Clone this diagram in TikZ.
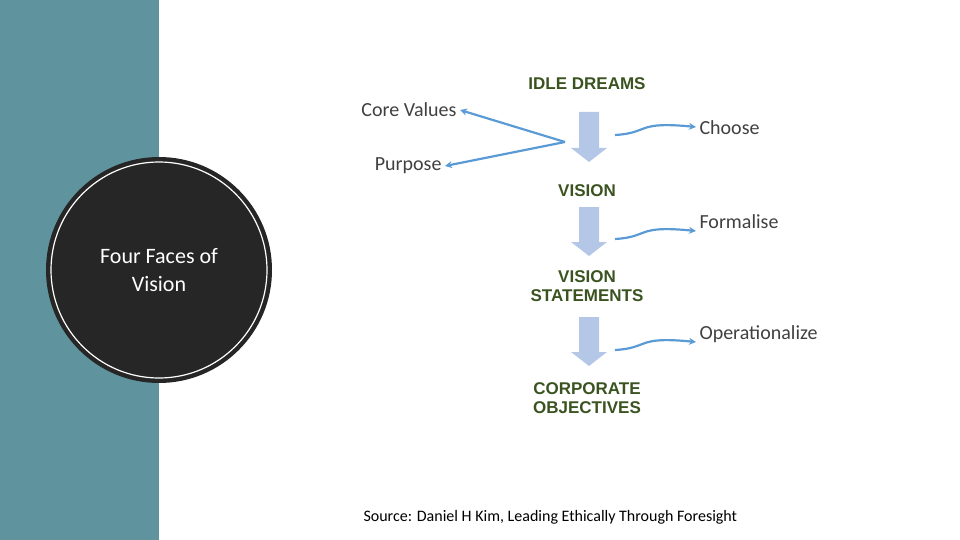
\documentclass[tikz,border=0pt]{standalone}
\usepackage{fontspec}
\setmainfont{Carlito}
\newfontfamily\arl{Liberation Sans}
\usetikzlibrary{arrows.meta}
\definecolor{teal1}{HTML}{5F949F}
\definecolor{dk}{HTML}{262626}
\definecolor{grn}{HTML}{3B5320}
\definecolor{lb}{HTML}{B4C7E7}
\definecolor{ab}{HTML}{5B9BD5}
\definecolor{tx}{HTML}{404040}
\begin{document}
\begin{tikzpicture}[x=1pt,y=-1pt,
  lab/.style={font=\arl\bfseries\fontsize{17}{19}\selectfont,text=grn,align=center},
  side/.style={font=\fontsize{20}{22}\selectfont,text=tx,anchor=west},
  thin/.style={draw=ab,line width=2.2pt,-{Stealth[length=7pt,width=7pt]}},
  blk/.style={fill=lb}]
\useasboundingbox (0,0) rectangle (960,540);
\fill[teal1] (0,0) rectangle (159,540);
\fill[dk] (159,270) circle (113);
\draw[white,line width=1.2pt] (159,270) circle (108);
\node[font=\fontsize{22}{28}\selectfont,text=white,align=center] (c) at (159,270) {Four Faces of\\Vision};

\node[lab] (d1) at (587,84) {IDLE DREAMS};
\node[lab] (d2) at (587,191) {VISION};
\node[lab,anchor=center] (d3) at (587,286) {VISION\\STATEMENTS};
\node[lab] (d4) at (587,398) {CORPORATE\\OBJECTIVES};

\node[side,anchor=east] (cv) at (460,110) {Core Values};
\node[side,anchor=east] (pp) at (445,166) {Purpose};
\node[side] (ch) at (696,128) {Choose};
\node[side] (fo) at (696,222) {Formalise};
\node[side] (op) at (696,334) {Operationalize};

\foreach \t/\b in {112/162,207/256,317/366}{
  \fill[lb] (579,\t) -- (599,\t) -- (599,\b-14) -- (607,\b-14) -- (589,\b) -- (571,\b-14) -- (579,\b-14) -- cycle;
}
\coordinate (m) at (565,142);
\draw[thin] (m) -- (cv.east);
\draw[thin] (m) -- (pp.east);
\foreach \y/\n in {135/ch,239/fo,350/op}{
  \draw[thin] (615,\y) .. controls (650,\y-2) and (635,\y-14) .. (ch.west |- {0,\y-8}) ;
}
\node[font=\fontsize{16}{18}\selectfont,text=black,anchor=west] (src) at (360,517) {Source: Daniel H Kim, Leading Ethically Through Foresight};
\end{tikzpicture}
\end{document}
